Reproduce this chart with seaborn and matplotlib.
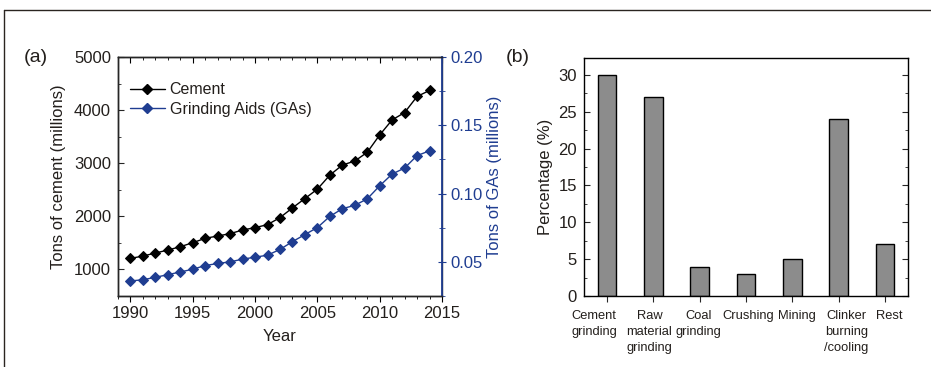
import numpy as np
import pandas as pd
import matplotlib
matplotlib.use("Agg")
import matplotlib.pyplot as plt
from matplotlib.lines import Line2D
from matplotlib.ticker import MultipleLocator
from matplotlib.transforms import ScaledTranslation
import seaborn as sns

# ---- data ----
years = list(range(1990, 2015))
cement = [1208, 1252, 1309, 1365, 1428, 1504, 1586, 1630, 1674, 1743, 1787, 1844,
          1976, 2159, 2335, 2512, 2776, 2965, 3041, 3205, 3532, 3816, 3954, 4257, 4370]
gas = [0.0360, 0.0369, 0.0387, 0.0406, 0.0426, 0.0446, 0.0473, 0.0488, 0.0500, 0.0520,
       0.0534, 0.0549, 0.0591, 0.0648, 0.0700, 0.0751, 0.0833, 0.0889, 0.0914, 0.0961,
       0.1057, 0.1143, 0.1187, 0.1278, 0.1313]
categories = ["Cement\ngrinding", "Raw\nmaterial\ngrinding", "Coal\ngrinding", "Crushing",
              "Mining", "Clinker\nburning\n/cooling", "Rest"]
percent = [30, 27, 4, 3, 5, 24, 7]

sns.set_style("ticks")
plt.rcParams['font.family'] = ['Liberation Sans', 'DejaVu Sans']
plt.rcParams['axes.linewidth'] = 1.0

BLUE = "#1f3d91"
TXT = "#231f1c"

W, H = 931, 367
fig = plt.figure(figsize=(W / 100, H / 100), dpi=100)

def fbox(l, r, t, b):
    return [l / W, (H - b) / H, (r - l) / W, (b - t) / H]

# ---- panel (a) ----
ax = fig.add_axes(fbox(118, 442, 57, 296))
df = pd.DataFrame({"year": years, "cement": cement, "gas": gas})
sns.lineplot(data=df, x="year", y="cement", ax=ax, color="black", marker="D",
             markersize=5.5, linewidth=1.0, markeredgecolor="black", legend=False)
ax2 = ax.twinx()
sns.lineplot(data=df, x="year", y="gas", ax=ax2, color=BLUE, marker="D",
             markersize=5.5, linewidth=1.0, markeredgecolor=BLUE, legend=False)
ax.set_xlim(1989, 2015)
ax.set_ylim(500, 5000)
ax2.set_ylim(0.025, 0.2)
ax.xaxis.set_minor_locator(MultipleLocator(1))
ax.yaxis.set_minor_locator(MultipleLocator(500))
ax2.yaxis.set_minor_locator(MultipleLocator(0.025))
ax.set_yticks([1000, 2000, 3000, 4000, 5000])
ax.set_yticklabels(["1000", "2000", "3000", "4000", "5000"])
ax2.set_yticks([0.05, 0.10, 0.15, 0.20])
ax2.set_yticklabels(["0.05", "0.10", "0.15", "0.20"])
ax.set_xticks([1990, 1995, 2000, 2005, 2010, 2015])
ax.set_xticklabels(["1990", "1995", "2000", "2005", "2010", "2015"])

ax.tick_params(axis="x", which="both", direction="out", top=True, labeltop=False,
               labelsize=12, colors="black", labelcolor=TXT, pad=3)
ax.tick_params(axis="x", which="major", length=4)
ax.tick_params(axis="x", which="minor", length=2.5)
ax.tick_params(axis="y", which="both", direction="in", labelsize=12, labelcolor=TXT, pad=5)
ax.tick_params(axis="y", which="major", length=4)
ax.tick_params(axis="y", which="minor", length=2.5)
ax2.tick_params(axis="y", which="both", direction="inout", colors=BLUE, labelsize=12, pad=3)
ax2.tick_params(axis="y", which="major", length=6)
ax2.tick_params(axis="y", which="minor", length=4)
for t in ax.xaxis.get_major_ticks() + ax.xaxis.get_minor_ticks():
    t.tick2line.set_marker(3)  # top ticks point inward
ax2.spines["right"].set_color(BLUE)
ax2.spines["right"].set_linewidth(1.3)
for s in ["left", "top", "bottom"]:
    ax.spines[s].set_color("black")
ax.set_xlabel("Year", fontsize=12, color=TXT, labelpad=6)
ax.set_ylabel("Tons of cement (millions)", fontsize=12, color=TXT, labelpad=6)
ax2.set_ylabel("Tons of GAs (millions)", fontsize=12, color=BLUE, labelpad=3)

handles = [Line2D([], [], color="black", marker="D", markersize=5.5, linewidth=1.0),
           Line2D([], [], color=BLUE, marker="D", markersize=5.5, linewidth=1.0)]
leg = ax.legend(handles, ["Cement", "Grinding Aids (GAs)"], loc="upper left",
                frameon=False, fontsize=11.5, handlelength=2.2, handletextpad=0.3,
                labelspacing=0.3, bbox_to_anchor=(-0.008, 0.955))
for t in leg.get_texts():
    t.set_color(TXT)

fig.text(24 / W, (H - 57) / H, "(a)", fontsize=14, color=TXT, va="center", ha="left")

# ---- panel (b) ----
bx = fig.add_axes(fbox(584, 908, 58, 296))
dfb = pd.DataFrame({"cat": categories, "pct": percent})
sns.barplot(data=dfb, x="cat", y="pct", ax=bx, color="#8c8c8c", saturation=1,
            width=0.4, edgecolor="black", linewidth=1.0)
bx.set_xlim(-0.5, 6.5)
bx.set_ylim(0, 32.3)
bx.yaxis.set_major_locator(MultipleLocator(5))
bx.yaxis.set_minor_locator(MultipleLocator(2.5))
bx.tick_params(axis="y", which="both", direction="in", right=True, labelsize=12,
               labelcolor=TXT, pad=5)
bx.tick_params(axis="y", which="major", length=4)
bx.tick_params(axis="y", which="minor", length=2)
bx.tick_params(axis="x", direction="out", length=4, labelsize=9.3, labelcolor=TXT, pad=6)
bx.set_xlabel("")
bx.set_ylabel("Percentage (%)", fontsize=12, color=TXT, labelpad=4)
label_shift_px = [-13, -4, -1, 2, 5, 8, 4]
for lab, dx in zip(bx.get_xticklabels(), label_shift_px):
    lab.set_linespacing(1.45)
    lab.set_verticalalignment("top")
    lab.set_transform(lab.get_transform() + ScaledTranslation(dx / 100, 0, fig.dpi_scale_trans))
for s in bx.spines.values():
    s.set_visible(True)
    s.set_color("black")

fig.text(506 / W, (H - 57) / H, "(b)", fontsize=14, color=TXT, va="center", ha="left")

# ---- outer frame ----
fig.add_artist(Line2D([4 / W, 1], [(H - 10) / H, (H - 10) / H], color="#2a2420", linewidth=1.0,
                      transform=fig.transFigure))
fig.add_artist(Line2D([4 / W, 4 / W], [(H - 10) / H, 0], color="#2a2420", linewidth=1.0,
                      transform=fig.transFigure))

fig.savefig("out.png", dpi=100)
